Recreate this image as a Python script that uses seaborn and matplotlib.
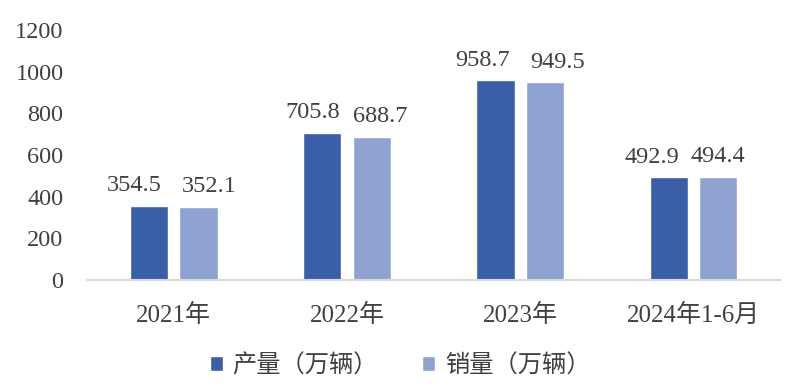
import matplotlib
matplotlib.use("Agg")
import matplotlib.pyplot as plt
import seaborn as sns
import pandas as pd

categories = ["2021年", "2022年", "2023年", "2024年1-6月"]
production = [354.5, 705.8, 958.7, 492.9]
sales = [352.1, 688.7, 949.5, 494.4]
series_names = ["产量（万辆）", "销量（万辆）"]
yticks = [0, 200, 400, 600, 800, 1000, 1200]

sns.set_theme(style="white")
plt.rcParams["font.family"] = ["Liberation Serif", "Noto Sans CJK SC", "DejaVu Sans"]

df = pd.DataFrame({
    "cat": categories * 2,
    "series": [series_names[0]] * 4 + [series_names[1]] * 4,
    "value": production + sales,
})

colors = ["#3B5EA8", "#8FA3D3"]
text_color = "#404040"

fig = plt.figure(figsize=(8, 3.92), dpi=100)
ax = fig.add_axes([0.109, 0.286, 0.866, 0.637])

sns.barplot(data=df, x="cat", y="value", hue="series", palette=colors,
            width=0.572, gap=0.23, ax=ax, saturation=1, legend=True)

# horizontal nudges (points) for the value labels, as in the reference
nudges = [[-11, -7, -9, -12], [8, 6, 9, 0]]
for ci, container in enumerate(ax.containers):
    for bi, bar in enumerate(container):
        v = container.datavalues[bi]
        ax.annotate(f"{v:.1f}", xy=(bar.get_x() + bar.get_width() / 2, bar.get_height()),
                    xytext=(nudges[ci][bi], 7), textcoords="offset points",
                    ha="center", va="bottom", fontsize=17.5, color=text_color)

ax.set_ylim(0, 1200)
ax.set_xlim(-0.5, 3.5)
ax.set_yticks(yticks)
ax.set_yticklabels([str(t) for t in yticks])
ax.tick_params(axis="y", length=0, labelsize=17.5, labelcolor=text_color, pad=17)
ax.tick_params(axis="x", length=0, labelsize=18, labelcolor=text_color, pad=17)
ax.set_xlabel("")
ax.set_ylabel("")
for s in ["top", "right", "left"]:
    ax.spines[s].set_visible(False)
ax.spines["bottom"].set_color("#D9D9D9")
ax.spines["bottom"].set_linewidth(1.5)

handles, labels = ax.get_legend_handles_labels()
ax.legend_.remove()
fig.legend(handles, labels, loc="center", bbox_to_anchor=(0.5, 0.067),
           ncol=2, frameon=False, fontsize=17.5, handlelength=0.55, handleheight=0.55,
           handletextpad=0.4, columnspacing=1.8, labelcolor=text_color)

fig.savefig("out.png", dpi=100, facecolor="white")
